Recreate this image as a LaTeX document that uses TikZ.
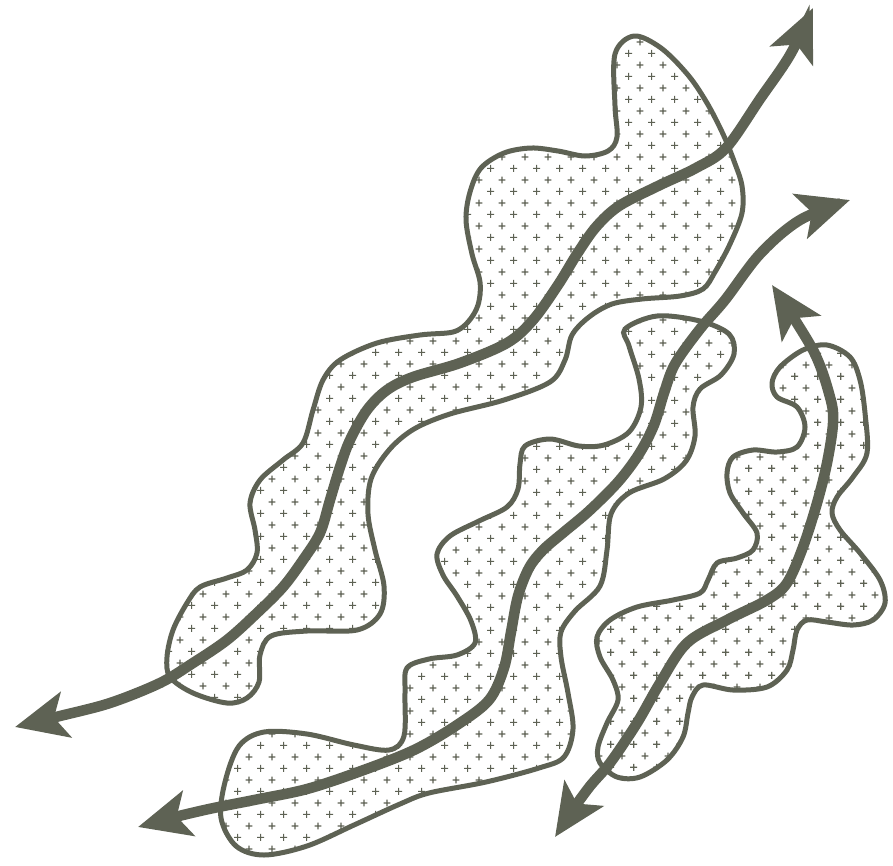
\documentclass[tikz,border=0pt]{standalone}
\usetikzlibrary{arrows.meta,patterns}
\definecolor{ink}{RGB}{94,98,84}
\pgfdeclarepatternformonly{crossgrid}{\pgfpointorigin}{\pgfpoint{23.3pt}{23.3pt}}{\pgfpoint{23.3pt}{23.3pt}}{%
  \pgfsetlinewidth{1.25pt}%
  \pgfpathmoveto{\pgfpoint{2.3pt}{5.8pt}}\pgfpathlineto{\pgfpoint{9.3pt}{5.8pt}}%
  \pgfpathmoveto{\pgfpoint{5.8pt}{2.3pt}}\pgfpathlineto{\pgfpoint{5.8pt}{9.3pt}}%
  \pgfpathmoveto{\pgfpoint{13.95pt}{17.45pt}}\pgfpathlineto{\pgfpoint{20.95pt}{17.45pt}}%
  \pgfpathmoveto{\pgfpoint{17.45pt}{13.95pt}}\pgfpathlineto{\pgfpoint{17.45pt}{20.95pt}}%
  \pgfusepath{stroke}}
\tikzset{
  blob/.style={draw=ink, line width=5pt, fill=white, postaction={pattern=crossgrid, pattern color=ink}},
  flow/.style={draw=ink, line width=10.5pt, {Stealth[length=52pt,width=46pt,inset=12pt]}-{Stealth[length=52pt,width=46pt,inset=12pt]}},
}
\begin{document}
\begin{tikzpicture}[x=1pt,y=-1pt]
\useasboundingbox (0,0) rectangle (893,865);
% blob 1
\path[blob] plot[smooth cycle, tension=0.55] coordinates {
(634,36) (661,48) (688,75) (707,103) (723,134) (734,161) (742,186) (742,213) (730,244) (715,272) (703,289) (680,296) (642,299) (612,304) (589,317) (572,335) (565,360) (550,382) (504,400) (450,414) (414,429) (389,450) (371,479) (368,514) (375,550) (384,586) (380,614) (357,630) (307,631) (271,636) (260,655) (259,682) (247,698) (227,703) (193,693) (170,677) (167,657) (173,630) (187,603) (200,587) (227,578) (247,570) (257,553) (255,530) (250,503) (260,480) (283,460) (303,443) (313,410) (323,380) (340,360) (377,343) (420,335) (453,332) (468,322) (478,305) (480,282) (472,254) (466,220) (470,192) (481,168) (504,153) (531,148) (558,151) (585,156) (608,151) (617,137) (615,106) (615,54)};
% blob 2
\path[blob] plot[smooth cycle, tension=0.55] coordinates {
(625,329) (657,316) (700,321) (729,334) (734,354) (721,375) (700,389) (693,407) (695,436) (686,461) (664,479) (629,493) (611,514) (607,550) (600,586) (575,611) (561,632) (561,657) (568,693) (573,729) (564,757) (539,768) (486,782) (429,793) (400,804) (354,825) (307,846) (264,855) (236,846) (221,818) (225,782) (239,746) (264,732) (307,734) (354,745) (389,750) (404,736) (405,693) (407,668) (429,659) (457,655) (475,643) (471,621) (457,596) (443,575) (437,554) (450,536) (479,521) (507,507) (518,489) (520,464) (525,446) (550,439) (579,446) (604,445) (629,432) (641,407) (639,379) (629,346)};
% blob 3
\path[blob] plot[smooth cycle, tension=0.55] coordinates {
(827,345) (850,357) (860,380) (865,413) (867,453) (853,477) (837,497) (832,513) (840,530) (860,553) (880,580) (885,603) (873,620) (853,625) (827,622) (807,620) (797,630) (793,650) (787,670) (767,687) (733,690) (703,685) (692,697) (688,713) (683,737) (667,760) (640,777) (617,777) (600,763) (598,747) (607,723) (618,700) (613,680) (600,657) (597,637) (610,620) (637,607) (673,600) (700,593) (708,580) (717,563) (737,558) (753,550) (757,533) (743,513) (730,493) (727,473) (733,457) (753,450) (777,452) (797,447) (805,427) (797,407) (777,397) (772,383) (780,367) (803,350)};
% arrows
\draw[flow] plot[smooth, tension=0.55] coordinates {
(15,727) (60,716) (110,703) (160,683) (193,663) (227,640) (257,613) (283,587) (303,560) (320,533) (330,500) (340,467) (350,440) (367,410) (387,390) (413,377) (460,363) (507,343) (533,320) (558,285) (577,254) (596,227) (619,206) (658,186) (696,168) (726,148) (760,99) (790,55) (813,8)};
\draw[flow] plot[smooth, tension=0.55] coordinates {
(138,827) (200,811) (254,800) (307,789) (361,771) (414,750) (457,725) (489,700) (504,668) (511,632) (518,596) (529,568) (543,550) (564,532) (589,511) (618,482) (639,454) (654,425) (664,393) (675,364) (700,329) (725,300) (760,254) (800,220) (850,200)};
\draw[flow] plot[smooth, tension=0.55] coordinates {
(555,837) (587,790) (610,763) (637,723) (660,683) (687,643) (727,620) (767,600) (787,583) (803,547) (817,503) (827,463) (833,423) (830,397) (813,350) (772,285)};
\end{tikzpicture}
\end{document}
